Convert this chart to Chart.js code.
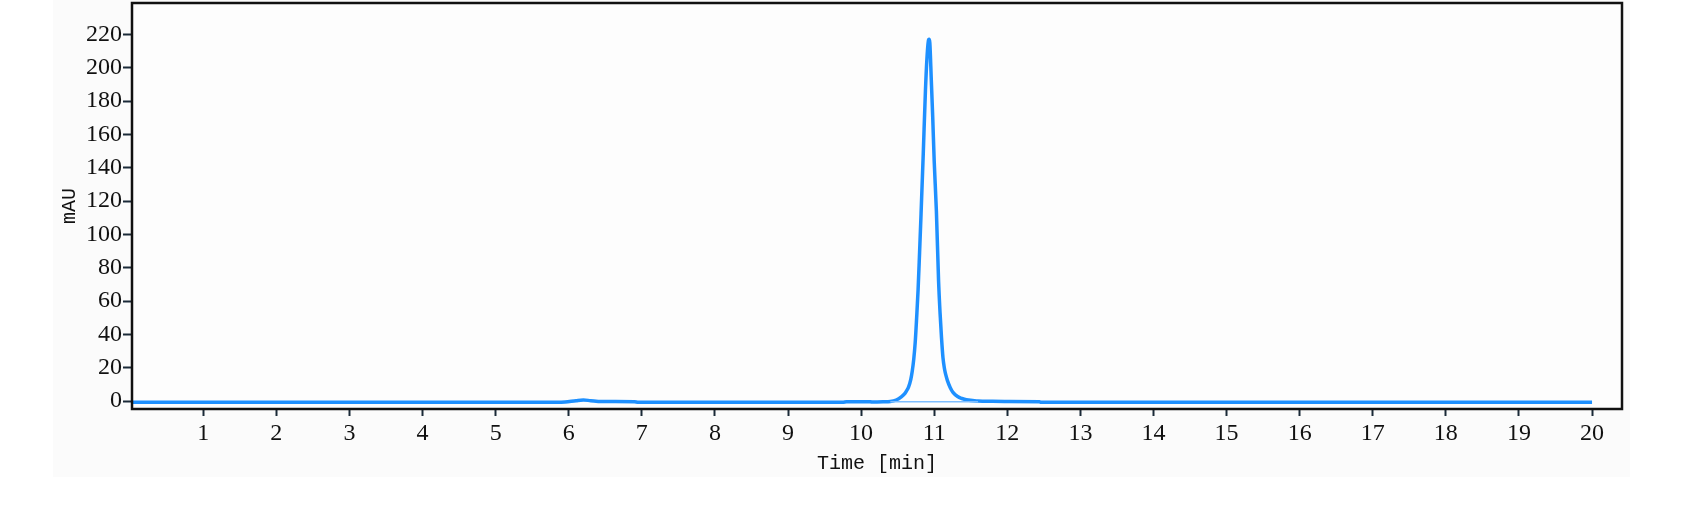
<!DOCTYPE html>
<html>
<head>
<meta charset="utf-8">
<script src="https://cdn.jsdelivr.net/npm/chart.js@4/dist/chart.umd.min.js"></script>
<style>
    body { margin: 0; background: #ffffff; }
    #wrap { width: 1697px; height: 506px; position: relative; }
</style>
</head>
<body>
<div id="wrap"><canvas id="chromChart"></canvas></div>
<script>
// Chromatogram trace (time in min, signal in mAU)
const times = [0.0, 5.85, 5.95, 6.1, 6.2, 6.3, 6.45, 6.9, 6.95, 9.75, 9.8, 10.1, 10.15, 10.3, 10.4,
    10.48, 10.55, 10.6, 10.62, 10.65, 10.68, 10.7, 10.72, 10.74, 10.76, 10.78, 10.8, 10.82, 10.85,
    10.88, 10.9, 10.92, 10.93, 10.94, 10.96, 10.98, 11.0, 11.03, 11.06, 11.08, 11.1, 11.12, 11.14,
    11.16, 11.18, 11.22, 11.26, 11.32, 11.38, 11.44, 11.6, 11.8, 12.0, 12.44, 12.46, 20.0];
const signal = [-0.8, -0.8, -0.6, 0.2, 0.6, 0.2, -0.3, -0.4, -0.8, -0.8, -0.4, -0.4, -0.6, -0.5, -0.3,
    0.6, 2.5, 4.6, 6, 8.5, 13, 18, 25, 35, 50, 67, 89, 112, 148,
    186, 205, 216, 217, 215, 193, 170, 144, 114, 72, 53, 38, 26, 19.5,
    15.5, 12.4, 8, 5, 2.7, 1.5, 0.7, 0.0, -0.2, -0.3, -0.4, -0.8, -0.8];

// Integration baseline under the main peak
const baseTimes = [10.4, 11.6];
const baseValues = [-0.5, -0.5];

const xTicks = [1, 2, 3, 4, 5, 6, 7, 8, 9, 10, 11, 12, 13, 14, 15, 16, 17, 18, 19, 20];
const yTicks = [0, 20, 40, 60, 80, 100, 120, 140, 160, 180, 200, 220];

// Light grey panel behind the plot and the frame around the chart area
const framePlugin = {
    id: 'frame',
    beforeDraw(chart) {
        const { ctx, chartArea } = chart;
        ctx.save();
        ctx.fillStyle = '#fbfbfb';
        ctx.fillRect(53, 0, 1577, 477);
        ctx.fillStyle = '#fdfdfd';
        ctx.fillRect(chartArea.left, chartArea.top, chartArea.right - chartArea.left, chartArea.bottom - chartArea.top);
        ctx.restore();
    },
    afterDatasetsDraw(chart) {
        const { ctx, chartArea } = chart;
        ctx.save();
        ctx.strokeStyle = '#111111';
        ctx.lineWidth = 2.5;
        ctx.strokeRect(chartArea.left, chartArea.top, chartArea.right - chartArea.left, chartArea.bottom - chartArea.top);
        ctx.restore();
    }
};

const ctx = document.getElementById('chromChart').getContext('2d');
const chart = new Chart(ctx, {
    type: 'line',
    data: {
        datasets: [
            {
                label: 'baseline',
                data: baseTimes.map((t, i) => ({ x: t, y: baseValues[i] })),
                borderColor: '#7dbdff',
                borderWidth: 1.5,
                pointRadius: 0,
                fill: false
            },
            {
                label: 'signal',
                data: times.map((t, i) => ({ x: t, y: signal[i] })),
                borderColor: '#1e90ff',
                borderWidth: 3.5,
                pointRadius: 0,
                cubicInterpolationMode: 'monotone',
                fill: false
            }
        ]
    },
    options: {
        responsive: true,
        maintainAspectRatio: false,
        animation: false,
        layout: {
            padding: { top: 3, right: 75, left: 0, bottom: 0 }
        },
        scales: {
            x: {
                type: 'linear',
                min: 0.025,
                max: 20.41,
                afterBuildTicks: (scale) => { scale.ticks = xTicks.map(v => ({ value: v })); },
                afterFit: (scale) => {
                    scale.height = 97;
                    scale.paddingLeft = 0;
                    scale.paddingRight = 0;
                },
                border: { display: false },
                grid: {
                    drawOnChartArea: false,
                    drawTicks: true,
                    tickLength: 7,
                    tickWidth: 2,
                    tickColor: '#1b2a38'
                },
                ticks: {
                    autoSkip: false,
                    maxRotation: 0,
                    padding: 3,
                    color: '#111111',
                    font: { family: 'Liberation Serif', size: 24 }
                },
                title: {
                    display: true,
                    text: 'Time [min]',
                    color: '#111111',
                    padding: { top: 0, bottom: 30 },
                    font: { family: 'Liberation Mono', size: 20 }
                }
            },
            y: {
                min: -4.8,
                max: 238.8,
                afterBuildTicks: (scale) => { scale.ticks = yTicks.map(v => ({ value: v })); },
                afterFit: (scale) => {
                    scale.width = 132;
                    scale.paddingTop = 0;
                    scale.paddingBottom = 0;
                },
                border: { display: false },
                grid: {
                    drawOnChartArea: false,
                    drawTicks: true,
                    tickLength: 9,
                    tickWidth: 2,
                    tickColor: '#1b2a38'
                },
                ticks: {
                    autoSkip: false,
                    padding: 1,
                    color: '#111111',
                    font: { family: 'Liberation Serif', size: 24 }
                },
                title: {
                    display: true,
                    text: 'mAU',
                    color: '#111111',
                    padding: { top: 58, bottom: 0 },
                    font: { family: 'Liberation Mono', size: 20 }
                }
            }
        },
        plugins: {
            legend: { display: false },
            tooltip: { enabled: false }
        }
    },
    plugins: [framePlugin]
});
</script>
</body>
</html>
